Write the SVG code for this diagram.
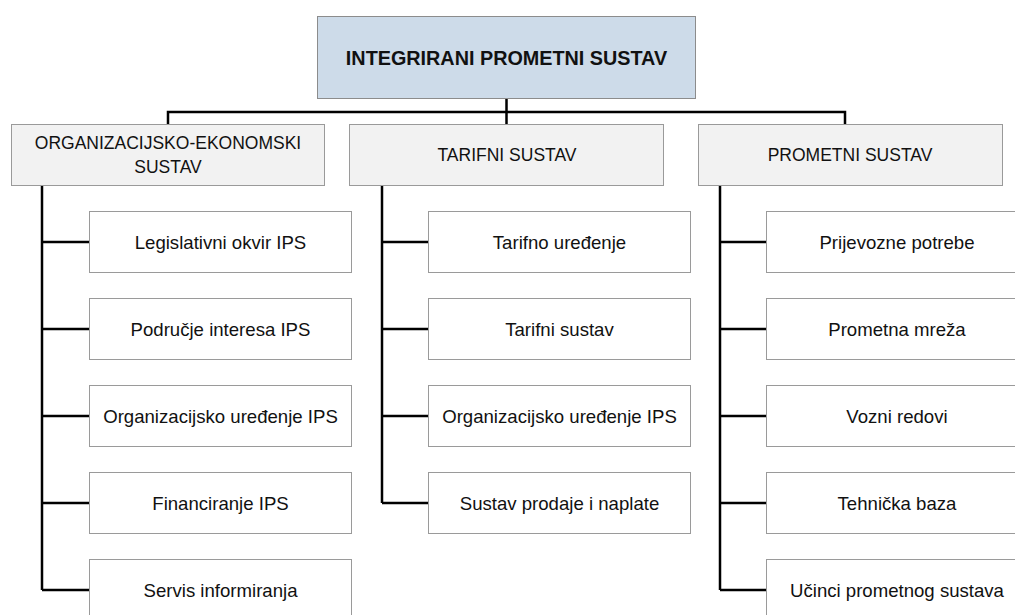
<svg xmlns="http://www.w3.org/2000/svg" width="1015" height="615" viewBox="0 0 1015 615">
<style>
text{font-family:"Liberation Sans",Arial,sans-serif;font-size:18.6px;fill:#111;text-anchor:middle}
.top rect{fill:#cddbe9;stroke:#8c8c8c;stroke-width:1}
.top text{font-weight:bold;font-size:19.8px}
.l2 rect{fill:#f2f2f2;stroke:#9a9a9a;stroke-width:1}
.l2 text{font-size:17.5px}
.l3 rect{fill:#fff;stroke:#9a9a9a;stroke-width:1}
.conn{fill:none;stroke:#000;stroke-width:2.5}
</style>
<rect width="1015" height="615" fill="#fff"/>
<g id="connectors" class="conn">
<path d="M506.5 99V124M168 124V112H845V124"/>
<path d="M42 186V590M42 242H89M42 329H89M42 416H89M42 503H89M42 590H89"/>
<path d="M382 186V503M382 242H428M382 329H428M382 416H428M382 503H428"/>
<path d="M720 186V590M720 242H766M720 329H766M720 416H766M720 503H766M720 590H766"/>
</g>
<g id="n-root" class="top"><rect x="317.5" y="16.5" width="378" height="82"/><text x="506.5" y="64.5">INTEGRIRANI PROMETNI SUSTAV</text></g>
<g id="n-org" class="l2"><rect x="11.5" y="124.5" width="313" height="61"/><text x="168" y="149">ORGANIZACIJSKO-EKONOMSKI</text><text x="168" y="173">SUSTAV</text></g>
<g id="n-tar" class="l2"><rect x="349.5" y="124.5" width="314" height="61"/><text x="507" y="161">TARIFNI SUSTAV</text></g>
<g id="n-pro" class="l2"><rect x="698.5" y="124.5" width="304" height="61"/><text x="850" y="161">PROMETNI SUSTAV</text></g>
<g id="n-a1" class="l3"><rect x="89.5" y="211.5" width="262" height="61"/><text x="220.5" y="248.5">Legislativni okvir IPS</text></g>
<g id="n-a2" class="l3"><rect x="89.5" y="298.5" width="262" height="61"/><text x="220.5" y="335.5">Područje interesa IPS</text></g>
<g id="n-a3" class="l3"><rect x="89.5" y="385.5" width="262" height="61"/><text x="220.5" y="422.5">Organizacijsko uređenje IPS</text></g>
<g id="n-a4" class="l3"><rect x="89.5" y="472.5" width="262" height="61"/><text x="220.5" y="509.5">Financiranje IPS</text></g>
<g id="n-a5" class="l3"><rect x="89.5" y="559.5" width="262" height="61"/><text x="220.5" y="596.5">Servis informiranja</text></g>
<g id="n-b1" class="l3"><rect x="428.5" y="211.5" width="262" height="61"/><text x="559.5" y="248.5">Tarifno uređenje</text></g>
<g id="n-b2" class="l3"><rect x="428.5" y="298.5" width="262" height="61"/><text x="559.5" y="335.5">Tarifni sustav</text></g>
<g id="n-b3" class="l3"><rect x="428.5" y="385.5" width="262" height="61"/><text x="559.5" y="422.5">Organizacijsko uređenje IPS</text></g>
<g id="n-b4" class="l3"><rect x="428.5" y="472.5" width="262" height="61"/><text x="559.5" y="509.5">Sustav prodaje i naplate</text></g>
<g id="n-c1" class="l3"><rect x="766.5" y="211.5" width="262" height="61"/><text x="897" y="248.5">Prijevozne potrebe</text></g>
<g id="n-c2" class="l3"><rect x="766.5" y="298.5" width="262" height="61"/><text x="897" y="335.5">Prometna mreža</text></g>
<g id="n-c3" class="l3"><rect x="766.5" y="385.5" width="262" height="61"/><text x="897" y="422.5">Vozni redovi</text></g>
<g id="n-c4" class="l3"><rect x="766.5" y="472.5" width="262" height="61"/><text x="897" y="509.5">Tehnička baza</text></g>
<g id="n-c5" class="l3"><rect x="766.5" y="559.5" width="262" height="61"/><text x="897" y="596.5">Učinci prometnog sustava</text></g>
</svg>
